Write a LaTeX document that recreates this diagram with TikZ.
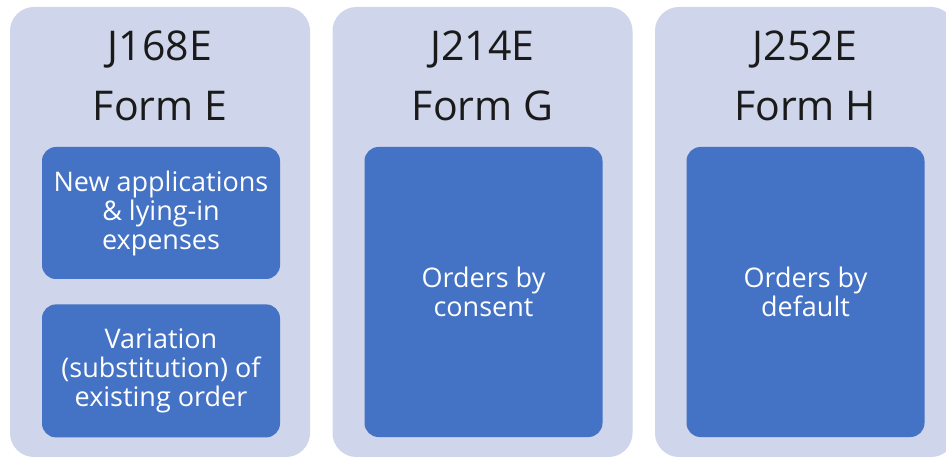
\documentclass[tikz,border=0pt]{standalone}
\usepackage{fontspec}
\setmainfont{Open Sans}
\usepackage{tikz}
\usetikzlibrary{positioning}
\definecolor{formPanel}{HTML}{CFD5EA}
\definecolor{formBlue}{HTML}{4472C4}
\definecolor{formText}{HTML}{1A1A1A}
\tikzset{
  formpanel/.style={fill=formPanel, draw=none, rounded corners=24pt, minimum width=300pt, minimum height=450pt},
  formtitle/.style={text=formText, font=\fontsize{41}{44}\selectfont, inner sep=0pt, anchor=base},
  formcard/.style={fill=formBlue, draw=none, rounded corners=14pt, text=white, align=center, minimum width=238pt, font=\fontsize{27}{29}\selectfont},
}

\begin{document}
\begin{tikzpicture}[x=1pt, y=1pt]
    \clip (0,0) rectangle (946,-457);
    \fill[white] (0,0) rectangle (946,-457);

    % panels
    \node[formpanel] (panE) at (160,-232) {};
    \node[formpanel] (panG) at (482.5,-232) {};
    \node[formpanel] (panH) at (805,-232) {};

    % codes and form names
    \node[formtitle] (codeE) at (160,-61) {J168E};
    \node[formtitle] (codeG) at (482.5,-61) {J214E};
    \node[formtitle] (codeH) at (805,-61) {J252E};
    \node[formtitle] (formE) at (160,-121) {Form E};
    \node[formtitle] (formG) at (482.5,-121) {Form G};
    \node[formtitle] (formH) at (805,-121) {Form H};

    % cards
    \node[formcard, minimum height=132pt] (newapp) at (161,-213)
      {New applications\\\& lying-in\\expenses};
    \node[formcard, minimum height=133pt, below=25pt of newapp] (variation)
      {Variation\\(substitution) of\\existing order};
    \node[formcard, minimum height=290pt] (consent) at (483.5,-292)
      {Orders by\\consent};
    \node[formcard, minimum height=290pt] (default) at (805.5,-292)
      {Orders by\\default};
\end{tikzpicture}
\end{document}
